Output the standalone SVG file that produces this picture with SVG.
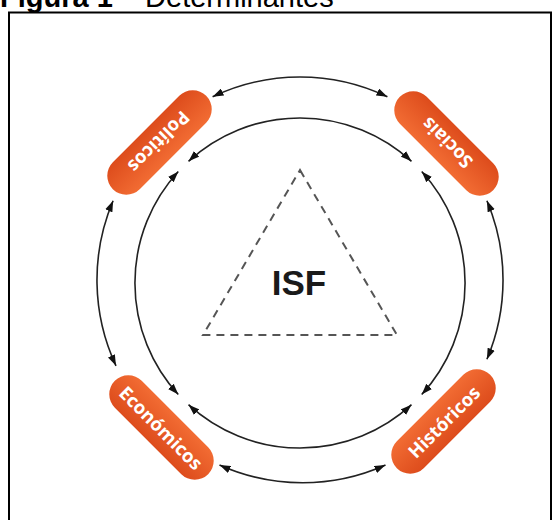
<svg xmlns="http://www.w3.org/2000/svg" width="560" height="520" viewBox="0 0 560 520">
  <style>
    .title { font-family: "Liberation Sans", Arial, sans-serif; font-size: 29px; fill: #000; }
    .conn { fill: none; stroke: #222; stroke-width: 1.6; }
    .pill { fill: url(#pillGrad); }
    .plabel { font-family: "Open Sans", "Liberation Sans", sans-serif; font-weight: bold; font-size: 18.5px; fill: #fff; text-anchor: middle; dominant-baseline: central; }
    .tri { fill: none; stroke: #555; stroke-width: 2; stroke-dasharray: 8 6; }
    .isf { font-family: "Liberation Sans", Arial, sans-serif; font-weight: bold; font-size: 35px; fill: #1a1a1a; text-anchor: middle; }
  </style>
  <defs>
    <linearGradient id="pillGrad" x1="0" y1="0" x2="0" y2="1">
      <stop offset="0" stop-color="#F26C33"/>
      <stop offset="1" stop-color="#DD4C1C"/>
    </linearGradient>
    <marker id="arr" viewBox="0 0 10 7" refX="10" refY="3.5" markerUnits="userSpaceOnUse" markerWidth="11" markerHeight="8" orient="auto-start-reverse">
      <path d="M0,0 L10,3.5 L0,7 z" fill="#111"/>
    </marker>
  </defs>
  <rect width="560" height="520" fill="#fff"/>
  <text class="title" x="0" y="7"><tspan font-weight="bold">Figura 1</tspan> – Determinantes</text>
  <rect x="9" y="12.5" width="542" height="520" fill="none" stroke="#000" stroke-width="2"/>

  <g id="connectors">
    <!-- inner circle arcs -->
    <path class="conn" d="M188.5,161.3 A165,165 0 0 1 411.5,161.3" marker-start="url(#arr)" marker-end="url(#arr)"/>
    <path class="conn" d="M421.7,171.5 A165,165 0 0 1 421.7,394.5" marker-start="url(#arr)" marker-end="url(#arr)"/>
    <path class="conn" d="M411.5,404.7 A165,165 0 0 1 188.5,404.7" marker-start="url(#arr)" marker-end="url(#arr)"/>
    <path class="conn" d="M178.3,394.5 A165,165 0 0 1 178.3,171.5" marker-start="url(#arr)" marker-end="url(#arr)"/>
    <!-- outer arcs -->
    <path class="conn" d="M212.6,96.8 A203,203 0 0 1 387.4,96.8" marker-start="url(#arr)" marker-end="url(#arr)"/>
    <path class="conn" d="M486.9,200.7 A203,203 0 0 1 486.9,359.3" marker-start="url(#arr)" marker-end="url(#arr)"/>
    <path class="conn" d="M385.5,465 A203,203 0 0 1 219.5,465" marker-start="url(#arr)" marker-end="url(#arr)"/>
    <path class="conn" d="M116,365.8 A203,203 0 0 1 113.1,200.7" marker-start="url(#arr)" marker-end="url(#arr)"/>
  </g>

  <g id="isf">
    <polygon class="tri" points="300,170 397,335 203,335"/>
    <text class="isf" x="299" y="295">ISF</text>
  </g>

  <g id="politicos" transform="translate(159.5,142.5) rotate(135)">
    <rect class="pill" x="-66" y="-19" width="132" height="38" rx="19"/>
    <text class="plabel" x="0" y="0">Políticos</text>
  </g>
  <g id="sociais" transform="translate(446.5,143.5) rotate(-135)">
    <rect class="pill" x="-66" y="-19" width="132" height="38" rx="19"/>
    <text class="plabel" x="0" y="0">Sociais</text>
  </g>
  <g id="economicos" transform="translate(161.5,427.5) rotate(45)">
    <rect class="pill" x="-66" y="-19" width="132" height="38" rx="19"/>
    <text class="plabel" x="0" y="0">Económicos</text>
  </g>
  <g id="historicos" transform="translate(443.5,421.5) rotate(-45)">
    <rect class="pill" x="-66" y="-19" width="132" height="38" rx="19"/>
    <text class="plabel" x="0" y="0">Históricos</text>
  </g>
</svg>
